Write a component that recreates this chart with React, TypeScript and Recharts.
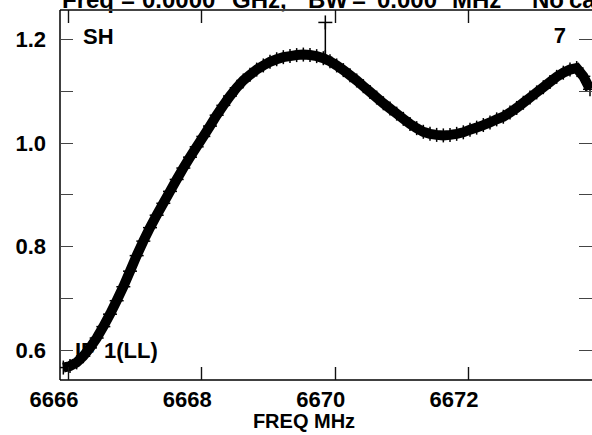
import { LineChart, Line, XAxis, YAxis } from 'recharts'

// spectrum, MHz / amplitude
const FREQ = [
  6665.93, 6666.03, 6666.13, 6666.23, 6666.33, 6666.43, 6666.53, 6666.63, 6666.73, 6666.83,
  6666.93, 6667.03, 6667.13, 6667.23, 6667.33, 6667.43, 6667.53, 6667.63, 6667.73, 6667.83,
  6667.93, 6668.03, 6668.13, 6668.23, 6668.33, 6668.43, 6668.53, 6668.63, 6668.73, 6668.83,
  6668.93, 6669.03, 6669.13, 6669.23, 6669.33, 6669.43, 6669.53, 6669.63, 6669.73, 6669.83,
  6669.93, 6670.03, 6670.13, 6670.23, 6670.33, 6670.43, 6670.53, 6670.63, 6670.73, 6670.83,
  6670.93, 6671.03, 6671.13, 6671.23, 6671.33, 6671.43, 6671.53, 6671.63, 6671.73, 6671.83,
  6671.93, 6672.03, 6672.13, 6672.23, 6672.33, 6672.43, 6672.53, 6672.63, 6672.73, 6672.83,
  6672.93, 6673.03, 6673.13, 6673.23, 6673.33, 6673.43, 6673.53, 6673.63, 6673.73, 6673.83,
]
const AMP = [
  0.566, 0.569, 0.576, 0.588, 0.604, 0.623, 0.645, 0.669, 0.695, 0.722,
  0.752, 0.782, 0.81, 0.836, 0.86, 0.883, 0.906, 0.929, 0.951, 0.972,
  0.992, 1.012, 1.032, 1.053, 1.072, 1.09, 1.106, 1.12, 1.131, 1.141,
  1.149, 1.156, 1.161, 1.165, 1.167, 1.169, 1.17, 1.169, 1.167, 1.163,
  1.157, 1.149, 1.14, 1.13, 1.12, 1.109, 1.098, 1.087, 1.076, 1.066,
  1.056, 1.046, 1.036, 1.028, 1.021, 1.017, 1.015, 1.014, 1.015, 1.017,
  1.02, 1.025, 1.029, 1.034, 1.039, 1.045, 1.05, 1.058, 1.067, 1.077,
  1.087, 1.097, 1.107, 1.117, 1.127, 1.135, 1.141, 1.144, 1.128, 1.103,
]
const SPIKE_FREQ = [6669.86, 6669.86]
const SPIKE_AMP = [1.165, 1.232]

const X_TICKS = [6666, 6668, 6670, 6672]
const Y_TICKS = [0.6, 0.7, 0.8, 0.9, 1.0, 1.1, 1.2]
const Y_LABELS = ['0.6', '0.8', '1.0', '1.2']

const data = FREQ.map((f, i) => ({ f, a: AMP[i] }))
const spike = SPIKE_FREQ.map((f, i) => ({ f, a: SPIKE_AMP[i] }))

const FONT = '"Liberation Sans", Arial, sans-serif'
const TICK = 13
const W = 592
const H = 435
const TOP = 10
const BOTTOM = 380
const LEFT = 60
const X_DOMAIN = [6665.88, 6673.86]

// frame tick position for a frequency (same mapping as the x axis)
const frameX = (f: number) => Math.round(LEFT + ((f - X_DOMAIN[0]) / (X_DOMAIN[1] - X_DOMAIN[0])) * (W - LEFT)) + 0.5

function Plus(props: any) {
  const { cx, cy } = props
  if (cx == null || cy == null) return <g />
  return (
    <g stroke="#000" strokeWidth={1.5}>
      <line x1={cx - 7} y1={cy} x2={cx + 7} y2={cy} />
      <line x1={cx} y1={cy - 7} x2={cx} y2={cy + 7} />
    </g>
  )
}

function BottomTick({ x, y, payload }: any) {
  const px = Math.round(Number(x)) + 0.5
  const d = `M${px},${BOTTOM} L${px},${BOTTOM - TICK} M${px},${TOP} L${px},${TOP + TICK}`
  return (
    <g>
      <path d={d} stroke="#111" strokeWidth={1.2} fill="none" />
      <text x={x - 14} y={y + 27} textAnchor="middle" fontSize={22} fontWeight="bold" fontFamily={FONT} fill="#000">
        {payload.value}
      </text>
    </g>
  )
}

// left tick + label, and the mirrored tick on the right frame
function LeftTick({ x, y, payload }: any) {
  const label = Y_LABELS.find((l) => Math.abs(Number(l) - payload.value) < 1e-6)
  const py = Math.round(y) + 0.5
  return (
    <g>
      <line x1={x} y1={py} x2={x + TICK} y2={py} stroke="#444" />
      <line x1={W - TICK} y1={py} x2={W} y2={py} stroke="#444" />
      {label && (
        <text x={46} y={y + 8} textAnchor="end" fontSize={22} fontWeight="bold" fontFamily={FONT} fill="#000">
          {label}
        </text>
      )}
    </g>
  )
}

export default function App() {
  const textStyle = { fontFamily: FONT, fontWeight: 'bold' as const, fill: '#000' }
  return (
    <div style={{ position: 'fixed', left: 0, top: 0, width: W, height: H, background: '#fff', overflow: 'hidden' }}>
      <svg width={W} height={H} style={{ position: 'absolute', left: 0, top: 0, display: 'block' }}>
        <text y={8} fontSize={24} {...textStyle}>
          <tspan x={62}>Freq</tspan>
          <tspan x={121}>=</tspan>
          <tspan x={142}>0.0000</tspan>
          <tspan x={232}>GHz,</tspan>
          <tspan x={308}>BW</tspan>
          <tspan x={352}>=</tspan>
          <tspan x={377}>0.000</tspan>
          <tspan x={452}>MHz</tspan>
          <tspan x={532}>No</tspan>
          <tspan x={569}>calibration</tspan>
        </text>
        <line x1={LEFT} y1={TOP} x2={W} y2={TOP} stroke="#444" strokeWidth={2} />
        {X_TICKS.map((t) => (
          <path
            key={t}
            d={`M${frameX(t)},${BOTTOM} L${frameX(t)},${BOTTOM - TICK} M${frameX(t)},${TOP} L${frameX(t)},${TOP + TICK}`}
            stroke="#111"
            strokeWidth={1.2}
            fill="none"
          />
        ))}
        <text x={83} y={44} fontSize={22} {...textStyle}>SH</text>
        <text x={566} y={43} fontSize={22} textAnchor="end" {...textStyle}>7</text>
        <text y={358} fontSize={22} {...textStyle}>
          <tspan x={75}>IF</tspan>
          <tspan x={104}>1(LL)</tspan>
        </text>
        <text x={304} y={428} fontSize={20} textAnchor="middle" {...textStyle}>FREQ MHz</text>
      </svg>
      <div style={{ position: 'absolute', left: 0, top: 0 }}>
        <LineChart width={W} height={H} data={data} margin={{ top: TOP, right: 0, bottom: 0, left: 0 }}>
          <XAxis
            dataKey="f"
            type="number"
            domain={X_DOMAIN}
            ticks={X_TICKS}
            height={55}
            tickSize={0}
            tickMargin={0}
            tickLine={false}
            axisLine={{ stroke: '#000', strokeWidth: 1.5 }}
            tick={<BottomTick />}
            allowDataOverflow
          />
          <YAxis
            type="number"
            domain={[0.542, 1.256]}
            ticks={Y_TICKS}
            width={LEFT}
            tickSize={0}
            tickMargin={0}
            tickLine={false}
            axisLine={{ stroke: '#000', strokeWidth: 1.5 }}
            tick={<LeftTick />}
            allowDataOverflow
          />
          <Line
            dataKey="a"
            type="linear"
            stroke="#000"
            strokeWidth={10}
            dot={<Plus />}
            activeDot={false}
            isAnimationActive={false}
          />
          <Line
            data={spike}
            dataKey="a"
            type="linear"
            stroke="#000"
            strokeWidth={1.5}
            dot={<Plus />}
            activeDot={false}
            isAnimationActive={false}
          />
        </LineChart>
      </div>
    </div>
  )
}
